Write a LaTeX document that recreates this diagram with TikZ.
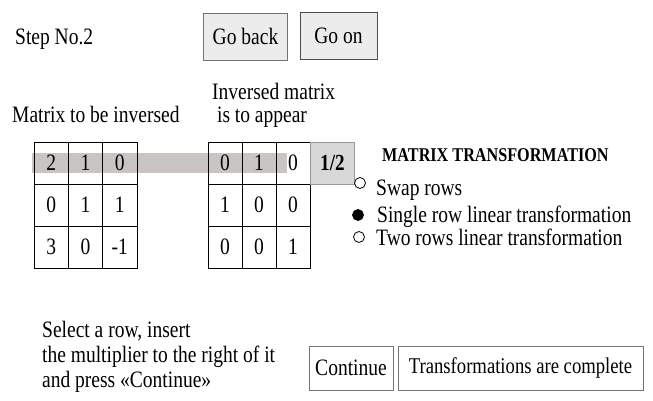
\documentclass[tikz,border=0pt]{standalone}
\usepackage{fontspec}
\setmainfont{Liberation Serif}[FakeStretch=0.83]
\definecolor{bandgray}{RGB}{201,197,197}
\definecolor{btngray}{RGB}{236,236,236}
\definecolor{halfgray}{RGB}{216,216,216}
\begin{document}
\begin{tikzpicture}[x=1pt,y=-1pt,
  big/.style={font=\fontsize{23.5}{26}\selectfont},
  txt/.style={big, inner sep=0pt, anchor=base west},
  btn/.style={big, draw=black!55, fill=btngray, line width=0.8pt, inner sep=0pt},
  wbtn/.style={draw=black!55, fill=white, line width=0.8pt, inner sep=0pt},
  cell/.style={big, draw=black, line width=0.9pt, minimum height=42pt, inner sep=0pt},
  radio/.style={circle, draw=black, line width=0.8pt, minimum size=11pt, inner sep=0pt}]
\useasboundingbox (0,0) rectangle (653,401);
\fill[white] (0,0) rectangle (653,401);

\node[txt] (step) at (15,45) {Step No.2};
\node[btn, minimum width=84pt, minimum height=47pt] (back) at (245.5,36.5) {Go back};
\node[btn, draw=black!70, minimum width=77pt, minimum height=47pt] (goon) at (338.5,35.5) {Go on};

\node[txt] (inv1) at (212,100) {Inversed matrix};
\node[txt] (inv2) at (212,123) {\ is to appear};
\node[txt] (mat) at (12,123) {Matrix to be inversed};

% highlight band
\fill[bandgray] (32,153) rectangle (287,173);

% left grid
\foreach \v [count=\i from 0] in {2,1,0,0,1,1,3,0,-1}{
  \pgfmathtruncatemacro{\r}{div(\i,3)}
  \pgfmathtruncatemacro{\c}{mod(\i,3)}
  \node[cell, minimum width=34.33pt] (L\i) at ({34+17.167+34.33*\c},{142+21+42*\r}) {\v};
}
% right grid
\foreach \v [count=\i from 0] in {0,1,0,1,0,0,0,0,1}{
  \pgfmathtruncatemacro{\r}{div(\i,3)}
  \pgfmathtruncatemacro{\c}{mod(\i,3)}
  \node[cell, minimum width=34pt] (R\i) at ({208+17+34*\c},{142+21+42*\r}) {\v};
}
\node[draw=black!40, fill=halfgray, line width=0.8pt, minimum width=44pt, minimum height=41.5pt, inner sep=0pt, anchor=north west, font=\bfseries\fontsize{23}{26}\selectfont] (half) at (310,142) {1/2};

\node[inner sep=0pt, anchor=base west, font=\bfseries\fontsize{19.5}{22}\selectfont] (title) at (382,161) {MATRIX TRANSFORMATION};

\node[radio, fill=white] (r1) at (360,183) {};
\node[txt] (t1) at (376,195) {Swap rows};
\node[radio, fill=black] (r2) at (358,215) {};
\node[txt] (t2) at (377,222) {Single row linear transformation};
\node[radio, fill=white] (r3) at (359,237) {};
\node[txt] (t3) at (376,245) {Two rows linear transformation};

\node[txt] (s1) at (42,337) {Select a row, insert};
\node[txt] (s2) at (42,362) {the multiplier to the right of it};
\node[txt] (s3) at (42,387) {and press «Continue»};

\node[wbtn, big, minimum width=84pt, minimum height=44pt] (cont) at (351,368) {Continue};
\node[wbtn, minimum width=245pt, minimum height=44pt, font=\fontsize{22.5}{25}\selectfont] (done) at (520.5,368) {Transformations are complete};
\end{tikzpicture}
\end{document}
